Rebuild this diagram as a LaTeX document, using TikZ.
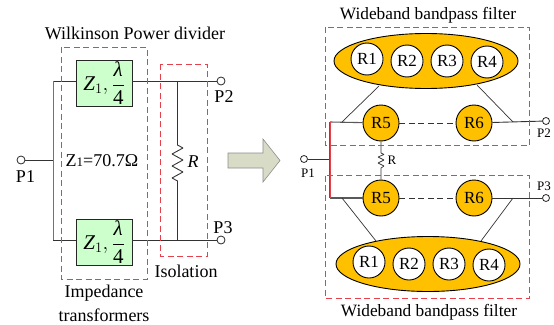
\documentclass[tikz,border=0pt]{standalone}
\usepackage{fontspec}
\setmainfont{Liberation Serif}
\usetikzlibrary{shapes.geometric}
\definecolor{dashred}{RGB}{232,64,74}
\definecolor{boxgreen}{HTML}{CCFFCC}
\definecolor{gold}{HTML}{FFC000}
\definecolor{wire}{HTML}{333333}
\definecolor{arrowfill}{HTML}{D8DCC6}
\tikzset{
  wireline/.style={draw=wire,line width=0.9pt},
  feedline/.style={draw=black!65,line width=1.1pt},
  thinline/.style={draw=wire,line width=0.7pt},
  dashline/.style={draw=wire,line width=0.9pt,dash pattern=on 6pt off 3.5pt},
  grouprect/.style={draw=dashred,dash pattern=on 6pt off 3.5pt,line width=1pt},
  primer/.style={draw=dashred,line width=0.05pt},
  zbox/.style={draw=black!85,fill=boxgreen,line width=0.9pt,minimum width=56pt,minimum height=46pt,inner sep=0pt,font=\fontsize{21}{21}\selectfont},
  port/.style={circle,draw=black!85,fill=white,line width=0.8pt,minimum size=8pt,inner sep=0pt},
  portb/.style={port,minimum size=7pt},
  lab/.style={inner sep=0pt,font=\fontsize{18}{18}\selectfont},
  labw/.style={inner sep=0pt,font=\fontsize{17.3}{17.3}\selectfont},
  labs/.style={inner sep=0pt,font=\fontsize{13}{13}\selectfont},
  oval/.style={ellipse,draw=black,fill=gold,line width=0.9pt,minimum width=184pt,minimum height=55pt,inner sep=0pt},
  whitering/.style={circle,draw=black,fill=white,line width=0.9pt,minimum size=32pt,inner sep=0pt,font=\fontsize{17}{17}\selectfont},
  goldring/.style={circle,draw=black,fill=gold,line width=0.9pt,minimum size=36pt,inner sep=0pt,font=\fontsize{17}{17}\selectfont},
}
\newcommand{\zlabel}{\color{black}$\mbox{\textit{Z}}_{1},\displaystyle\frac{\mbox{\textit{λ}}}{\mbox{\color{black}4}}$}
\begin{document}
\begin{tikzpicture}[x=1pt,y=-1pt]
\useasboundingbox (0,0) rectangle (554,324);
% left: labels
\node[lab] (t1) at (135,33) {Wilkinson Power divider};
\node[lab] (t2) at (104,293) {Impedance};
\node[lab] (t3) at (104,315) {transformers};
\node[lab] (t4) at (186,271) {Isolation};
\node[lab] (zv) at (102,161) {Z{\fontsize{13}{13}\selectfont 1}=70.7Ω};
\node[lab,font=\fontsize{18}{18}\selectfont\itshape] (rl) at (193,162) {R};
% left: ports and blocks
\node[port] (p1) at (21,160) {};
\node[port] (p2) at (221,81) {};
\node[port] (p3) at (221,240) {};
\node[lab] (lp1) at (25.5,177) {P1};
\node[lab] (lp2) at (224,97) {P2};
\node[lab] (lp3) at (223,228) {P3};
\node[zbox] (z1) at (104,83) {\zlabel};
\node[zbox] (z2) at (104,242) {\zlabel};
\coordinate (j1) at (53,160);
\coordinate (j2) at (53,81);
\coordinate (j3) at (53,240);
\coordinate (r1) at (177.5,81);
\coordinate (r2) at (177.5,240);
\draw[wireline] (p1) -- (j1);
\draw[wireline] (j2) -- (j3);
\draw[wireline] (j2) -- (j2 -| z1.west);
\draw[wireline] (j3) -- (j3 -| z2.west);
\draw[wireline] (p2 -| z1.east) -- (p2);
\draw[wireline] (p3 -| z2.east) -- (p3);
\draw[wireline,line join=bevel] (r1) -- (177.5,145) -- (183,148) -- (172,154) -- (183,160) -- (172,166) -- (183,172) -- (172,178) -- (177.5,181) -- (r2);
\begin{scope}
\color{dashred}
\draw[primer] (j2) -- (j3);
\draw[grouprect] (61,47) rectangle (147,279);
\draw[grouprect] (160,64) rectangle (207,256);
\end{scope}
% big arrow
\draw[draw=black!45,fill=arrowfill,line width=0.6pt] (228,153) -- (263,153) -- (263,139) -- (280,160.5) -- (263,182) -- (263,168) -- (228,168) -- cycle;
% right: titles
\node[labw] (w1) at (428,15) {Wideband bandpass filter};
\node[labw] (w2) at (429,312) {Wideband bandpass filter};
\node[labs] (rr) at (392,160) {R};
% right: top filter
\node[oval] (e1) at (426,61) {};
\node[whitering] (a1) at (367,59) {R1};
\node[whitering] (a2) at (407,61) {R2};
\node[whitering] (a3) at (447,61) {R3};
\node[whitering] (a4) at (487,62) {R4};
\node[goldring] (a5) at (381,123) {R5};
\node[goldring] (a6) at (474,123) {R6};
% right: bottom filter
\node[oval] (e2) at (428,264) {};
\node[whitering] (b1) at (369,262) {R1};
\node[whitering] (b2) at (409,264) {R2};
\node[whitering] (b3) at (449,264) {R3};
\node[whitering] (b4) at (489,265) {R4};
\node[goldring] (b5) at (381,198) {R5};
\node[goldring] (b6) at (474,198) {R6};
% right: ports
\node[portb] (q1) at (304,159) {};
\node[portb] (q2) at (546,121) {};
\node[portb] (q3) at (546,198) {};
\node[labs] (lq1) at (308,173) {P1};
\node[labs] (lq2) at (544,133) {P2};
\node[labs] (lq3) at (544,186) {P3};
\coordinate (c1) at (330,159);
\coordinate (c2) at (330,122);
\coordinate (c3) at (330,198);
\coordinate (u1) at (342,122);
\coordinate (u2) at (513,122);
\coordinate (v1) at (342,198);
\coordinate (v2) at (513,198);
\coordinate (ua) at (379,86);
\coordinate (ub) at (477,85);
\coordinate (va) at (376,241);
\coordinate (vb) at (481,241);
\draw[wireline] (q1) -- (c1);
\draw[feedline] (c2) -- (c3);
\draw[feedline] (c2) -- (a5);
\draw[feedline] (c3) -- (b5);
\draw[wireline] (a6) -- (q2);
\draw[wireline] (b6) -- (q3);
\draw[dashline] (a5) -- (a6);
\draw[dashline] (b5) -- (b6);
\draw[thinline] (u1) -- (ua);
\draw[thinline] (u2) -- (ub);
\draw[thinline] (v1) -- (va);
\draw[thinline] (v2) -- (vb);
\draw[thinline,line join=bevel] (a5) -- (381,153) -- (384,154.5) -- (378,157) -- (384,160) -- (378,163) -- (384,166) -- (381,168) -- (b5);
\begin{scope}
\color{dashred}
\draw[primer] (c2) -- (c3);
\draw[grouprect] (325,27) rectangle (529.5,145);
\draw[grouprect] (325,175.5) rectangle (529.5,298);
\end{scope}
\end{tikzpicture}
\end{document}
